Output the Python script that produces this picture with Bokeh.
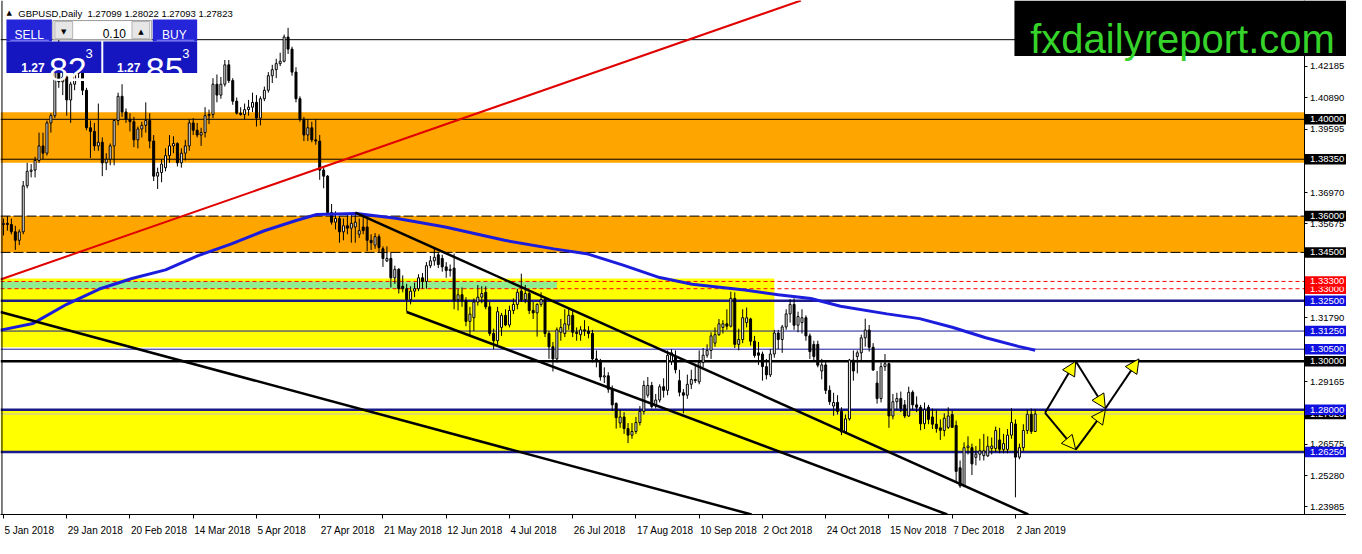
from bokeh.plotting import figure
from bokeh.models import (Range1d, FixedTicker, PrintfTickFormatter, Span, LinearAxis,
                          BoxAnnotation, Label, Arrow, NormalHead, ColumnDataSource)
from bokeh.embed import file_html
from bokeh.resources import INLINE

# ---------------- DATA (GBPUSD daily, 5 Jan 2018 .. 9 Jan 2019, one bar per trading day) -------------
opens = [
    1.3565, 1.3570, 1.3565, 1.3535, 1.3500, 1.3535, 1.3725, 1.3785, 1.3790, 1.3830,
    1.3890, 1.3860, 1.3985, 1.4015, 1.4265, 1.4155, 1.4175, 1.4080, 1.4145, 1.4190,
    1.4260, 1.4120, 1.3965, 1.3950, 1.3890, 1.3905, 1.3820, 1.3835, 1.3890, 1.3995,
    1.4095, 1.4030, 1.4000, 1.3990, 1.3915, 1.3960, 1.3975, 1.3995, 1.3910, 1.3765,
    1.3780, 1.3800, 1.3850, 1.3890, 1.3900, 1.3820, 1.3860, 1.3890, 1.3985, 1.3955,
    1.3935, 1.3945, 1.4015, 1.4020, 1.4145, 1.4100, 1.4145, 1.4225, 1.4160, 1.4075,
    1.4025, 1.4020, 1.4040, 1.4050, 1.4070, 1.4005, 1.4085, 1.4120, 1.4180, 1.4205,
    1.4230, 1.4240, 1.4340, 1.4290, 1.4195, 1.4085, 1.4000, 1.3935, 1.3965, 1.3915,
    1.3910, 1.3790, 1.3765, 1.3615, 1.3575, 1.3590, 1.3535, 1.3560, 1.3550, 1.3555,
    1.3525, 1.3555, 1.3555, 1.3500, 1.3480, 1.3515, 1.3465, 1.3415, 1.3425, 1.3345,
    1.3380, 1.3310, 1.3300, 1.3255, 1.3290, 1.3300, 1.3345, 1.3330, 1.3395, 1.3415,
    1.3440, 1.3425, 1.3390, 1.3375, 1.3385, 1.3255, 1.3275, 1.3250, 1.3165, 1.3180,
    1.3245, 1.3265, 1.3285, 1.3225, 1.3115, 1.3085, 1.3140, 1.3190, 1.3150, 1.3210,
    1.3235, 1.3290, 1.3255, 1.3280, 1.3210, 1.3200, 1.3235, 1.3255, 1.3115, 1.3060,
    1.3010, 1.3120, 1.3115, 1.3150, 1.3190, 1.3120, 1.3110, 1.3130, 1.3125, 1.3115,
    1.3010, 1.3000, 1.2935, 1.2940, 1.2885, 1.2826, 1.2745, 1.2770, 1.2722, 1.2695,
    1.2710, 1.2747, 1.2793, 1.2860, 1.2900, 1.2815, 1.2840, 1.2895, 1.2880, 1.3000,
    1.3020, 1.2920, 1.2870, 1.2860, 1.2905, 1.2925, 1.2915, 1.2995, 1.3025, 1.3045,
    1.3075, 1.3110, 1.3140, 1.3155, 1.3145, 1.3260, 1.3070, 1.3090, 1.3160, 1.3175,
    1.3083, 1.3035, 1.3030, 1.2978, 1.2944, 1.3030, 1.3117, 1.3090, 1.3142, 1.3196,
    1.3235, 1.3149, 1.3160, 1.3180, 1.3105, 1.3070, 1.3070, 1.2960, 1.2985, 1.2880,
    1.2815, 1.2830, 1.2793, 1.2708, 1.2762, 1.3005, 1.3020, 1.3035, 1.3097, 1.3129,
    1.3058, 1.2910, 1.2846, 1.2978, 1.2990, 1.2774, 1.2833, 1.2846, 1.2820, 1.2774,
    1.2872, 1.2820, 1.2810, 1.2742, 1.2810, 1.2770, 1.2740, 1.2725, 1.2714, 1.2727,
    1.2780, 1.2735, 1.2560, 1.2485, 1.2643, 1.2643, 1.2603, 1.2616, 1.2610, 1.2609,
    1.2640, 1.2640, 1.2675, 1.2636, 1.2636, 1.2695, 1.2741, 1.2604, 1.2643, 1.2714,
    1.2781, 1.27099,
]
highs = [
    1.3590, 1.3600, 1.3590, 1.3560, 1.3545, 1.3745, 1.3820, 1.3815, 1.3845, 1.3945,
    1.3945, 1.3995, 1.4025, 1.4280, 1.4345, 1.4225, 1.4180, 1.4155, 1.4220, 1.4280,
    1.4285, 1.4130, 1.3995, 1.3985, 1.4065, 1.3925, 1.3860, 1.3900, 1.4000, 1.4110,
    1.4145, 1.4045, 1.4025, 1.4010, 1.3970, 1.3990, 1.4070, 1.4025, 1.3935, 1.3800,
    1.3835, 1.3880, 1.3935, 1.3930, 1.3905, 1.3880, 1.3915, 1.4000, 1.4005, 1.3985,
    1.3965, 1.4050, 1.4040, 1.4170, 1.4185, 1.4175, 1.4245, 1.4245, 1.4170, 1.4090,
    1.4050, 1.4065, 1.4080, 1.4110, 1.4100, 1.4095, 1.4135, 1.4195, 1.4225, 1.4250,
    1.4275, 1.4350, 1.4378, 1.4300, 1.4215, 1.4095, 1.4010, 1.4000, 1.3990, 1.4000,
    1.3935, 1.3800, 1.3770, 1.3650, 1.3620, 1.3600, 1.3590, 1.3605, 1.3610, 1.3615,
    1.3590, 1.3610, 1.3590, 1.3525, 1.3530, 1.3525, 1.3475, 1.3475, 1.3450, 1.3395,
    1.3385, 1.3355, 1.3320, 1.3310, 1.3325, 1.3360, 1.3365, 1.3410, 1.3435, 1.3470,
    1.3450, 1.3440, 1.3410, 1.3400, 1.3445, 1.3300, 1.3305, 1.3265, 1.3225, 1.3260,
    1.3315, 1.3310, 1.3310, 1.3245, 1.3135, 1.3225, 1.3200, 1.3215, 1.3230, 1.3260,
    1.3300, 1.3362, 1.3315, 1.3290, 1.3245, 1.3240, 1.3285, 1.3265, 1.3125, 1.3080,
    1.3140, 1.3175, 1.3215, 1.3220, 1.3210, 1.3140, 1.3145, 1.3170, 1.3145, 1.3130,
    1.3045, 1.3010, 1.2975, 1.2955, 1.2900, 1.2830, 1.2800, 1.2790, 1.2745, 1.2745,
    1.2770, 1.2815, 1.2920, 1.2935, 1.2915, 1.2865, 1.2905, 1.2930, 1.3045, 1.3050,
    1.3045, 1.2965, 1.2885, 1.2945, 1.2965, 1.2990, 1.3045, 1.3055, 1.3070, 1.3120,
    1.3140, 1.3175, 1.3170, 1.3215, 1.3288, 1.3285, 1.3135, 1.3215, 1.3222, 1.3180,
    1.3105, 1.3080, 1.3040, 1.3010, 1.3050, 1.3130, 1.3130, 1.3150, 1.3215, 1.3257,
    1.3260, 1.3205, 1.3215, 1.3190, 1.3115, 1.3085, 1.3085, 1.3010, 1.3000, 1.2900,
    1.2870, 1.2860, 1.2810, 1.2780, 1.3010, 1.3045, 1.3045, 1.3110, 1.3176, 1.3150,
    1.3075, 1.2960, 1.2995, 1.3030, 1.2995, 1.2865, 1.2870, 1.2875, 1.2840, 1.2895,
    1.2880, 1.2855, 1.2820, 1.2830, 1.2820, 1.2805, 1.2800, 1.2760, 1.2785, 1.2810,
    1.2795, 1.2755, 1.2590, 1.2665, 1.2690, 1.2660, 1.2650, 1.2680, 1.2700, 1.2690,
    1.2685, 1.2730, 1.2725, 1.2700, 1.2720, 1.2806, 1.2760, 1.2660, 1.2740, 1.2801,
    1.2805, 1.28022,
]
lows = [
    1.3520, 1.3540, 1.3525, 1.3460, 1.3480, 1.3525, 1.3715, 1.3760, 1.3760, 1.3820,
    1.3835, 1.3850, 1.3945, 1.4005, 1.4130, 1.4100, 1.4015, 1.3985, 1.4120, 1.4170,
    1.4100, 1.3955, 1.3840, 1.3870, 1.3870, 1.3765, 1.3790, 1.3810, 1.3810, 1.3975,
    1.4010, 1.3985, 1.3950, 1.3885, 1.3880, 1.3925, 1.3945, 1.3880, 1.3745, 1.3712,
    1.3740, 1.3785, 1.3820, 1.3860, 1.3805, 1.3800, 1.3830, 1.3870, 1.3935, 1.3925,
    1.3890, 1.3925, 1.3980, 1.4005, 1.4070, 1.4085, 1.4135, 1.4150, 1.4060, 1.4020,
    1.4015, 1.4000, 1.4015, 1.4030, 1.3970, 1.3975, 1.4075, 1.4110, 1.4150, 1.4170,
    1.4220, 1.4235, 1.4270, 1.4180, 1.4070, 1.3990, 1.3910, 1.3910, 1.3905, 1.3895,
    1.3750, 1.3715, 1.3605, 1.3565, 1.3545, 1.3490, 1.3500, 1.3525, 1.3490, 1.3490,
    1.3510, 1.3525, 1.3455, 1.3460, 1.3465, 1.3450, 1.3390, 1.3410, 1.3305, 1.3320,
    1.3280, 1.3285, 1.3205, 1.3235, 1.3265, 1.3290, 1.3300, 1.3300, 1.3385, 1.3395,
    1.3385, 1.3370, 1.3345, 1.3350, 1.3215, 1.3210, 1.3225, 1.3145, 1.3102, 1.3125,
    1.3230, 1.3240, 1.3215, 1.3105, 1.3050, 1.3065, 1.3105, 1.3145, 1.3140, 1.3195,
    1.3215, 1.3245, 1.3240, 1.3195, 1.3175, 1.3102, 1.3225, 1.3100, 1.3010, 1.2958,
    1.2995, 1.3085, 1.3100, 1.3130, 1.3100, 1.3085, 1.3085, 1.3105, 1.3095, 1.2995,
    1.2975, 1.2920, 1.2910, 1.2870, 1.2795, 1.2722, 1.2725, 1.2700, 1.2662, 1.2680,
    1.2700, 1.2735, 1.2780, 1.2850, 1.2805, 1.2805, 1.2830, 1.2850, 1.2860, 1.2985,
    1.2950, 1.2855, 1.2785, 1.2845, 1.2885, 1.2910, 1.2905, 1.2975, 1.3015, 1.3010,
    1.3060, 1.3105, 1.3115, 1.3130, 1.3140, 1.3055, 1.3045, 1.3075, 1.3140, 1.3065,
    1.3015, 1.2985, 1.2920, 1.2925, 1.2935, 1.3015, 1.3050, 1.3035, 1.3130, 1.3160,
    1.3130, 1.3120, 1.3115, 1.3085, 1.3010, 1.3005, 1.2975, 1.2925, 1.2865, 1.2820,
    1.2775, 1.2780, 1.2695, 1.2700, 1.2755, 1.2920, 1.2950, 1.3000, 1.3060, 1.3040,
    1.2960, 1.2825, 1.2830, 1.2960, 1.2725, 1.2760, 1.2800, 1.2790, 1.2765, 1.2770,
    1.2800, 1.2790, 1.2715, 1.2720, 1.2740, 1.2720, 1.2705, 1.2675, 1.2690, 1.2720,
    1.2725, 1.2505, 1.2477, 1.2480, 1.2615, 1.2530, 1.2570, 1.2590, 1.2590, 1.2605,
    1.2615, 1.2625, 1.2620, 1.2620, 1.2620, 1.2680, 1.2438, 1.2595, 1.2630, 1.2700,
    1.2700, 1.27093,
]
closes = [
    1.3570, 1.3565, 1.3535, 1.3500, 1.3535, 1.3725, 1.3785, 1.3790, 1.3830, 1.3890,
    1.3860, 1.3985, 1.4015, 1.4265, 1.4155, 1.4175, 1.4080, 1.4145, 1.4190, 1.4260,
    1.4120, 1.3965, 1.3950, 1.3890, 1.3905, 1.3820, 1.3835, 1.3890, 1.3995, 1.4095,
    1.4030, 1.4000, 1.3990, 1.3915, 1.3960, 1.3975, 1.3995, 1.3910, 1.3765, 1.3780,
    1.3815, 1.3850, 1.3890, 1.3900, 1.3820, 1.3860, 1.3890, 1.3985, 1.3955, 1.3935,
    1.3945, 1.4015, 1.4020, 1.4145, 1.4100, 1.4145, 1.4225, 1.4160, 1.4075, 1.4025,
    1.4020, 1.4040, 1.4050, 1.4070, 1.4005, 1.4085, 1.4120, 1.4180, 1.4205, 1.4230,
    1.4240, 1.4340, 1.4290, 1.4195, 1.4085, 1.4000, 1.3935, 1.3965, 1.3915, 1.3910,
    1.3790, 1.3765, 1.3615, 1.3575, 1.3590, 1.3535, 1.3560, 1.3550, 1.3570, 1.3575,
    1.3540, 1.3540, 1.3500, 1.3490, 1.3515, 1.3470, 1.3425, 1.3425, 1.3345, 1.3380,
    1.3300, 1.3300, 1.3255, 1.3290, 1.3300, 1.3345, 1.3330, 1.3395, 1.3415, 1.3430,
    1.3400, 1.3390, 1.3375, 1.3380, 1.3250, 1.3275, 1.3250, 1.3165, 1.3195, 1.3245,
    1.3265, 1.3280, 1.3225, 1.3115, 1.3085, 1.3205, 1.3190, 1.3150, 1.3210, 1.3235,
    1.3285, 1.3255, 1.3280, 1.3210, 1.3200, 1.3235, 1.3255, 1.3115, 1.3060, 1.3010,
    1.3130, 1.3140, 1.3155, 1.3190, 1.3120, 1.3115, 1.3130, 1.3125, 1.3115, 1.3010,
    1.3000, 1.2935, 1.2940, 1.2885, 1.2820, 1.2767, 1.2770, 1.2722, 1.2695, 1.2710,
    1.2747, 1.2793, 1.2900, 1.2900, 1.2813, 1.2840, 1.2895, 1.2880, 1.3025, 1.3035,
    1.2965, 1.2872, 1.2860, 1.2905, 1.2925, 1.2920, 1.2995, 1.3025, 1.3045, 1.3105,
    1.3110, 1.3155, 1.3155, 1.3145, 1.3260, 1.3070, 1.3090, 1.3180, 1.3180, 1.3083,
    1.3024, 1.3025, 1.2978, 1.2944, 1.3030, 1.3117, 1.3090, 1.3142, 1.3196, 1.3235,
    1.3149, 1.3185, 1.3180, 1.3105, 1.3040, 1.3020, 1.2984, 1.2985, 1.2880, 1.2833,
    1.2830, 1.2793, 1.2708, 1.2762, 1.3005, 1.2960, 1.3035, 1.3097, 1.3129, 1.3058,
    1.2964, 1.2846, 1.2978, 1.2990, 1.2774, 1.2833, 1.2846, 1.2805, 1.2774, 1.2872,
    1.2820, 1.2810, 1.2742, 1.2800, 1.2760, 1.2740, 1.2722, 1.2715, 1.2765, 1.2774,
    1.2727, 1.2545, 1.2485, 1.2643, 1.2650, 1.2576, 1.2616, 1.2630, 1.2630, 1.2649,
    1.2650, 1.2714, 1.2636, 1.2660, 1.2695, 1.2747, 1.2604, 1.2643, 1.2714, 1.2781,
    1.2710, 1.27823,
]

date_tick_bars = [0, 16, 32, 48, 64, 80, 96, 112, 128, 144, 160, 176, 192, 208, 224, 240, 256]
date_tick_labels = ["5 Jan 2018", "29 Jan 2018", "20 Feb 2018", "14 Mar 2018", "5 Apr 2018",
                    "27 Apr 2018", "21 May 2018", "12 Jun 2018", "4 Jul 2018", "26 Jul 2018",
                    "17 Aug 2018", "10 Sep 2018", "2 Oct 2018", "24 Oct 2018", "15 Nov 2018",
                    "7 Dec 2018", "2 Jan 2019"]
price_ticks = [1.42185, 1.40890, 1.39595, 1.36970, 1.35675, 1.31790, 1.29165,
               1.26575, 1.25280, 1.23985]

# moving average
ma_bars = [-0.75, 7.5, 16, 24.25, 32.5, 41, 49.25, 57.5, 66, 74.25, 79.25, 89.25, 99.25,
           111.75, 126.75, 139.25, 147.5, 156.75, 166, 174.25, 187.5, 196, 204.25, 211.75,
           223.5, 231.75, 240, 248.5, 256.75, 261]
ma_values = [1.31289, 1.31565, 1.32355, 1.32986, 1.33421, 1.33776, 1.34368, 1.34842,
             1.35395, 1.35829, 1.36066, 1.36105, 1.35908, 1.35553, 1.35000, 1.34645,
             1.34447, 1.33973, 1.33460, 1.33184, 1.32947, 1.32750, 1.32592, 1.32276,
             1.31960, 1.31763, 1.31407, 1.30973, 1.30618, 1.30460]

# trend lines (two anchors each: bar index, price)
red_trend_bars, red_trend_prices = [-0.75, 201.75], [1.33381, 1.44909]
chan_a_bars, chan_a_prices = [-0.75, 189.25], [1.32039, 1.23669]
chan_b_bars, chan_b_prices = [89.0, 259.25], [1.36145, 1.23669]
chan_c_bars, chan_c_prices = [102.0, 238.75], [1.32039, 1.23669]

# zones
zone_orange_upper = (1.4029, 1.3820)
zone_orange_lower = (1.3600, 1.3450)
zone_yellow_mid = (1.3342, 1.3058, 195)
zone_green = (1.3330, 1.3300, 140)
zone_yellow_low = (1.2797, 1.2626)

# horizontal levels
lvl_black_thin = [1.4329, 1.4000, 1.3835]
lvl_black_dash = [1.3600, 1.3450]
lvl_red_dash = [1.3330, 1.3300]
lvl_navy_thick = [1.3250, 1.2800, 1.2625]
lvl_navy_thin = [1.3125, 1.3050]
lvl_black_thick = [1.3000]
current_price = 1.27823

tags_black = [1.40000, 1.38350, 1.36000, 1.34500, 1.30000]
tags_red = [1.33000, 1.33300]
tags_blue = [1.32500, 1.31250, 1.30500, 1.28000, 1.26250]

# projected path (bar index, price)
proj_up_bars = [263.5, 271.25, 278.75, 287.25]
proj_up_prices = [1.2787, 1.3000, 1.2805, 1.3010]
proj_dn_bars = [263.5, 271.25, 278.75]
proj_dn_prices = [1.2787, 1.2635, 1.2800]

header_text = "GBPUSD,Daily \u00a01.27099 1.28022 1.27093 1.27823"

# ---------------- helpers: reference-pixel layout -> data coordinates -------------
def xd(px):
    return (px - 3.0) / 4.0

def yd(py):
    return 1.42185 - (py - 69.0) / 2533.0

FONT = "Liberation Sans"
W, H = 1346, 538
SCREEN_PX_PER_BAR = 4.0 * W / 1362.0

CHAR_W = {" ": 278, "J": 500, "F": 611, "M": 833, "A": 667, "S": 667, "O": 778, "N": 722,
          "D": 722, "r": 333, "y": 500, "l": 222, "c": 500, "t": 278, "v": 500}

def text_w(s, size):
    return sum(CHAR_W.get(ch, 556) for ch in s) / 1000.0 * size

p = figure(width=W, height=H,
           x_range=Range1d(xd(0), xd(1362)), y_range=Range1d(yd(538), yd(0)),
           output_backend="svg", toolbar_location=None, y_axis_location="right",
           min_border_left=0, min_border_top=0, min_border_right=0, min_border_bottom=0,
           background_fill_color="white", border_fill_color="white")
p.outline_line_color = None
p.xgrid.visible = False
p.ygrid.visible = False

def box(top, bottom, color, right=None, left=None, level="underlay"):
    kw = dict(top=top, bottom=bottom, fill_color=color, fill_alpha=1.0,
              line_alpha=0, level=level)
    if right is not None:
        kw["right"] = right
    if left is not None:
        kw["left"] = left
    p.add_layout(BoxAnnotation(**kw))

box(zone_orange_upper[0], zone_orange_upper[1], "#ffa500")
box(zone_orange_lower[0], zone_orange_lower[1], "#ffa500")
box(zone_yellow_mid[0], zone_yellow_mid[1], "#ffff00", right=zone_yellow_mid[2])
box(zone_green[0], zone_green[1], "#90ee90", right=zone_green[2])
box(zone_yellow_low[0], zone_yellow_low[1], "#ffff00")

def hline(v, color, width=1, dash="solid"):
    p.add_layout(Span(location=v, dimension="width", line_color=color,
                      line_width=width, line_dash=dash, level="underlay"))

for v in lvl_black_thin:
    hline(v, "black", 1)
for v in lvl_black_dash:
    hline(v, "black", 1, "10 3")
for v in lvl_red_dash:
    hline(v, "#ff0000", 1, "4 3")
for v in lvl_navy_thin:
    hline(v, "#1a1a9a", 1)
for v in lvl_navy_thick:
    hline(v, "#1a1a8c", 2.5)
for v in lvl_black_thick:
    hline(v, "black", 2.5)
hline(current_price, "#c0c0c0", 1)

# white price-scale area on the right (the y axis sits on its left edge)
AXIS_X = xd(1319)
p.add_layout(BoxAnnotation(left=AXIS_X, fill_color="white", fill_alpha=1.0, line_alpha=0,
                           level="glyph"))

# left frame border
p.add_layout(Span(location=xd(1.5), dimension="height", line_color="black", line_width=1))

# candles
bars = list(range(len(closes)))
src = ColumnDataSource(dict(x=bars, o=opens, h=highs, l=lows, c=closes))
p.segment(x0="x", y0="l", x1="x", y1="h", source=src, line_color="black", line_width=1)
up = [i for i in bars if closes[i] >= opens[i]]
dn = [i for i in bars if closes[i] < opens[i]]
src_up = ColumnDataSource(dict(x=up, top=[closes[i] for i in up], bottom=[opens[i] for i in up]))
src_dn = ColumnDataSource(dict(x=dn, top=[opens[i] for i in dn], bottom=[closes[i] for i in dn]))
p.vbar(x="x", width=0.5, top="top", bottom="bottom", source=src_up,
       fill_color="white", line_color="black", line_width=1)
p.vbar(x="x", width=0.5, top="top", bottom="bottom", source=src_dn,
       fill_color="black", line_color="black", line_width=1)

# moving average and trend lines
p.line(ma_bars, ma_values, line_color="#1c1cdc", line_width=3)
p.line(red_trend_bars, red_trend_prices, line_color="#e00000", line_width=2)
for bx, py in [(chan_a_bars, chan_a_prices), (chan_b_bars, chan_b_prices),
               (chan_c_bars, chan_c_prices)]:
    p.line(bx, py, line_color="black", line_width=2.5)

# projected path arrows
for bx, py in [(proj_up_bars, proj_up_prices), (proj_dn_bars, proj_dn_prices)]:
    for k in range(len(bx) - 1):
        p.add_layout(Arrow(end=NormalHead(size=14, fill_color="#ffff00", line_color="black",
                                          line_width=1),
                           x_start=bx[k], y_start=py[k], x_end=bx[k + 1], y_end=py[k + 1],
                           line_color="black", line_width=2))

# x axis: tick marks at the dates (labels not drawn), a second axis carries the labels
p.xaxis.ticker = FixedTicker(ticks=date_tick_bars)
p.xaxis.major_label_text_color = None
p.xaxis.major_label_text_font_size = "1px"
p.xaxis.major_label_standoff = 0
p.xaxis.major_tick_out = 4
p.xaxis.major_tick_in = 0
p.xaxis.minor_tick_line_color = None
p.xaxis.axis_line_color = "black"
p.xaxis.major_tick_line_color = "black"

label_centers = [round(b + (1.0 + text_w(s, 10) / 2.0) / SCREEN_PX_PER_BAR, 3)
                 for b, s in zip(date_tick_bars, date_tick_labels)]
xlab = LinearAxis(ticker=FixedTicker(ticks=label_centers),
                  major_label_overrides={c: s for c, s in zip(label_centers, date_tick_labels)},
                  axis_line_color=None, major_tick_line_color=None, minor_tick_line_color=None,
                  major_label_standoff=0, major_label_text_font=FONT,
                  major_label_text_font_size="10px", major_label_text_color="black")
p.add_layout(xlab, "below")

# y axis (price scale) placed at the right edge of the chart area
p.yaxis.fixed_location = AXIS_X
p.yaxis.ticker = FixedTicker(ticks=price_ticks)
p.yaxis.formatter = PrintfTickFormatter(format="%.5f")
p.yaxis.major_label_text_font = FONT
p.yaxis.major_label_text_font_size = "9.5px"
p.yaxis.major_label_text_color = "black"
p.yaxis.major_label_standoff = 3
p.yaxis.major_tick_out = 3
p.yaxis.major_tick_in = 0
p.yaxis.minor_tick_line_color = None
p.yaxis.axis_line_color = "black"
p.yaxis.major_tick_line_color = "black"

# price tags on the price scale
HALF_TAG = 5.5 / 2533.0
def tag(v, bg):
    p.add_layout(BoxAnnotation(left=xd(1320), right=xd(1362), top=v + HALF_TAG,
                               bottom=v - HALF_TAG, fill_color=bg, fill_alpha=1.0,
                               line_alpha=0))
    p.add_layout(Label(x=xd(1320), y=v, text="%.5f" % v, text_align="left",
                       text_baseline="middle", x_offset=5, text_font=FONT,
                       text_font_size="9.5px", text_color="white"))

tag(current_price, "black")
for v in tags_black:
    tag(v, "black")
for v in tags_blue:
    tag(v, "#1010e0")
for v in tags_red:
    tag(v, "#ff0000")

# trading panel (top-left)
def pbox(l, r, t, b, color, line=None):
    p.add_layout(BoxAnnotation(left=xd(l), right=xd(r), top=yd(t), bottom=yd(b),
                               fill_color=color, fill_alpha=1.0,
                               line_color=line if line else color,
                               line_alpha=1.0 if line else 0.0, line_width=1))

pbox(6, 52, 20, 43, "#2424d8")
pbox(154, 199, 20, 43, "#2424d8")
pbox(6, 102, 43, 76, "#1616c0")
pbox(104, 199, 43, 76, "#1616c0")
pbox(10, 49, 41, 42, "#8888ff")
pbox(158, 196, 41, 42, "#8888ff")
pbox(53, 153, 21, 41, "white", "#9a9a9a")
pbox(55, 73, 22, 40, "#e6e6e6", "#b4b4b4")
pbox(133, 151, 22, 40, "#e6e6e6", "#b4b4b4")

def ptext(px, py, text, size, color="white", align="left", style="normal", font=FONT):
    p.add_layout(Label(x=xd(px), y=yd(py), text=text, text_align=align,
                       text_baseline="alphabetic", text_font=font, text_font_size=size,
                       text_color=color, text_font_style=style))

ptext(29, 36, "SELL", "12px", align="center")
ptext(176, 36, "BUY", "12px", align="center")
ptext(127, 35, "0.10", "12px", color="black", align="right")
ptext(64, 33, "\u25bc", "7px", color="black", align="center", font="DejaVu Sans")
ptext(142, 33, "\u25b2", "7px", color="black", align="center", font="DejaVu Sans")
ptext(21, 70, "1.27", "12px", style="bold")
ptext(49, 72, "82", "34px")
ptext(86, 55, "3", "13px")
ptext(118, 70, "1.27", "12px", style="bold")
ptext(147, 72, "85", "34px")
ptext(184, 55, "3", "13px")

# chart header
ptext(6, 13, "\u25b2", "7px", color="black", font="DejaVu Sans")
ptext(18, 14, header_text, "9.5px", color="black")

# site banner
p.add_layout(BoxAnnotation(left=xd(1026), right=xd(1362), top=yd(0), bottom=yd(58),
                           fill_color="black", fill_alpha=1.0, line_alpha=0))
p.add_layout(Label(x=xd(1042), y=yd(40), text="fxdailyreport.com", text_align="left",
                   text_baseline="alphabetic", text_font=FONT, text_font_size="40px",
                   text_color="#36d42a"))

open("out.html", "w").write(file_html(p, INLINE))
